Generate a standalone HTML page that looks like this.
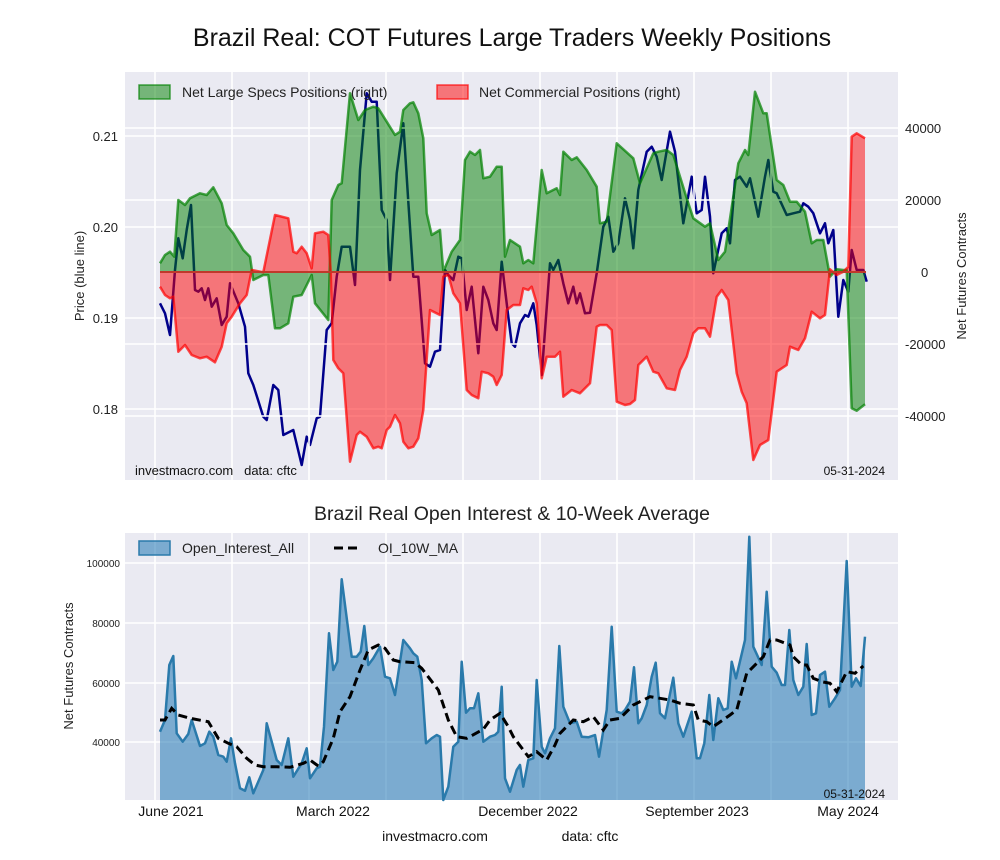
<!DOCTYPE html>
<html><head><meta charset="utf-8"><style>
body{margin:0;background:#fff;}
svg{display:block;font-family:"Liberation Sans",sans-serif;}
</style></head><body>
<svg id="s" width="1000" height="860" viewBox="0 0 1000 860" xmlns="http://www.w3.org/2000/svg">
<rect x="0" y="0" width="1000" height="860" fill="#fff"/>
<text x="512" y="46" font-size="25" text-anchor="middle" fill="#111">Brazil Real: COT Futures Large Traders Weekly Positions</text>
<rect x="125" y="72" width="773" height="408" fill="#eaeaf2"/>
<g stroke="#fff" stroke-width="1.6">
<line x1="125" x2="898" y1="136" y2="136"/><line x1="125" x2="898" y1="227" y2="227"/>
<line x1="125" x2="898" y1="318" y2="318"/><line x1="125" x2="898" y1="409" y2="409"/>
</g>
<path id="blue" fill="none" stroke="#00008b" stroke-width="2.5" stroke-linejoin="round"/>
<g stroke="#fff" stroke-width="1.6" id="vgridTop">
<line x1="125" x2="898" y1="128" y2="128"/><line x1="125" x2="898" y1="200" y2="200"/>
<line x1="125" x2="898" y1="344" y2="344"/><line x1="125" x2="898" y1="416" y2="416"/>
</g>
<path id="gfill" fill="rgba(0,128,0,0.5)" stroke="none"/>
<path id="rfill" fill="rgba(255,0,0,0.5)" stroke="none"/>
<path id="gline" fill="none" stroke="rgba(0,128,0,0.7)" stroke-width="2.5" stroke-linejoin="round"/>
<path id="rline" fill="none" stroke="rgba(255,0,0,0.7)" stroke-width="2.5" stroke-linejoin="round"/>
<line x1="160" x2="866" y1="272" y2="272" stroke="#c0392b" stroke-width="2"/>
<g font-size="13" fill="#222" text-anchor="end">
<text x="118" y="141">0.21</text><text x="118" y="232">0.20</text><text x="118" y="323">0.19</text><text x="118" y="414">0.18</text>
</g>
<g font-size="13" fill="#222">
<text x="905" y="133">40000</text><text x="905" y="205">20000</text><text x="921" y="277">0</text>
<text x="905" y="349">-20000</text><text x="905" y="421">-40000</text>
</g>
<text transform="translate(84,276) rotate(-90)" font-size="13" text-anchor="middle" fill="#222">Price (blue line)</text>
<text transform="translate(966,276) rotate(-90)" font-size="13" text-anchor="middle" fill="#222">Net Futures Contracts</text>
<rect x="139" y="85" width="31" height="14" fill="rgba(0,128,0,0.5)" stroke="rgba(0,128,0,0.7)" stroke-width="1.5"/>
<text x="182" y="97" font-size="14" fill="#222">Net Large Specs Positions (right)</text>
<rect x="437" y="85" width="31" height="14" fill="rgba(255,0,0,0.5)" stroke="rgba(255,0,0,0.7)" stroke-width="1.5"/>
<text x="479" y="97" font-size="14" fill="#222">Net Commercial Positions (right)</text>
<text x="135" y="475" font-size="13" fill="#111">investmacro.com &#160;&#160;data: cftc</text>
<text x="885" y="475" font-size="12" fill="#111" text-anchor="end">05-31-2024</text>
<text x="512" y="520" font-size="19.5" text-anchor="middle" fill="#222">Brazil Real Open Interest &amp; 10-Week Average</text>
<rect x="125" y="533" width="773" height="267" fill="#eaeaf2"/>
<g stroke="#fff" stroke-width="1.6" id="bgrid">
<line x1="125" x2="898" y1="563" y2="563"/><line x1="125" x2="898" y1="623" y2="623"/>
<line x1="125" x2="898" y1="683" y2="683"/><line x1="125" x2="898" y1="742" y2="742"/>
</g>
<path id="oifill" fill="rgba(31,119,180,0.55)" stroke="none"/>
<path id="oiline" fill="none" stroke="#2a7aab" stroke-width="2.5" stroke-linejoin="round"/>
<path id="ma" fill="none" stroke="#000" stroke-width="3" stroke-dasharray="9,5"/>
<g font-size="10" fill="#222" text-anchor="end">
<text x="120" y="567">100000</text><text x="120" y="627">80000</text><text x="120" y="687">60000</text><text x="120" y="746">40000</text>
</g>
<text transform="translate(73,666) rotate(-90)" font-size="13" text-anchor="middle" fill="#222">Net Futures Contracts</text>
<rect x="139" y="541" width="31" height="14" fill="rgba(31,119,180,0.55)" stroke="#2a7aab" stroke-width="1.5"/>
<text x="182" y="553" font-size="14" fill="#222">Open_Interest_All</text>
<line x1="334" x2="362" y1="548" y2="548" stroke="#000" stroke-width="3" stroke-dasharray="9,5"/>
<text x="378" y="553" font-size="14" fill="#222">OI_10W_MA</text>
<text x="885" y="798" font-size="12" fill="#111" text-anchor="end">05-31-2024</text>
<g font-size="14" fill="#111" text-anchor="middle">
<text x="171" y="816">June 2021</text><text x="333" y="816">March 2022</text><text x="528" y="816">December 2022</text>
<text x="697" y="816">September 2023</text><text x="848" y="816">May 2024</text>
</g>
<text x="435" y="841" font-size="14" fill="#111" text-anchor="middle">investmacro.com</text>
<text x="590" y="841" font-size="14" fill="#111" text-anchor="middle">data: cftc</text>
</svg>
<script>
function T(a,ox,oy){var r=[];for(var i=0;i<a.length;i+=2)r.push([ox+a[i]/3,oy+a[i+1]/3]);return r;}
function M(a,b){var lx=a[a.length-1][0];return a.concat(b.filter(function(p){return p[0]>lx+0.5;}));}
function P(p){return p.map(function(q,i){return (i?'L':'M')+q[0].toFixed(1)+','+q[1].toFixed(1);}).join('');}
function F(p,b){return 'M'+p[0][0].toFixed(1)+','+b+P(p).replace(/^M/,'L')+'L'+p[p.length-1][0].toFixed(1)+','+b+'Z';}
var g=M(T([120,580,135,555,150,545,163,560,175,390,195,405,210,385,240,370,260,375,280,352,305,400,320,465,340,490,370,540,390,560,400,630,430,615,445,615,465,775,480,775,505,760,520,680,545,675,575,615,585,700,625,750,635,390,655,345,665,340,690,70,715,150,735,120,760,110,775,115,800,155,825,195,840,185,850,120,870,100,880,97,895,130,910,205,920,430,935,495,960,480,970,605,995,545,1020,510,1035,270,1050,245,1065,255,1080,240,1090,325,1110,320,1130,290,1145,290,1155,560,1170,510,1200,530],120,70),
T([0,290,15,560,30,510,50,515,70,580,85,570,100,580,125,300,140,370,170,355,180,375,190,245,215,270,230,262,260,300,290,350,300,460,320,455,350,220,400,265,420,340,460,250,475,245,500,240,520,255,560,385,580,445,615,470,630,460,655,570,675,545,700,380,715,280,735,240,745,255,765,65,790,130,800,130,830,330,850,345,870,395,890,395,915,425,935,520,950,510,970,510,990,620,1010,598,1030,600,1040,600,1055,1015,1070,1022,1095,1003],500,70));
var r=M(T([120,650,135,675,150,685,160,680,175,845,195,825,215,855,240,865,260,860,285,877,305,830,320,760,335,740,360,700,380,675,395,600,430,607,465,435,505,445,520,545,530,550,545,530,560,550,575,595,585,490,610,485,625,495,632,605,640,870,655,895,670,910,690,1175,710,1095,720,1085,740,1100,760,1135,775,1130,785,1135,800,1080,810,1070,825,1035,840,1060,850,1115,865,1135,880,1130,895,1105,910,1020,930,720,960,735,970,620,985,615,1000,670,1020,700,1040,960,1055,975,1075,985,1085,905,1105,910,1120,920,1130,945,1145,915,1160,720,1180,705,1200,705],120,70),
T([0,935,15,690,35,740,55,715,70,655,85,660,95,650,110,700,125,925,140,860,165,860,180,845,190,980,215,960,240,970,270,940,290,770,300,765,320,765,335,780,350,995,375,1005,390,1002,405,990,415,885,440,860,460,905,475,910,500,955,525,960,540,900,560,860,580,790,595,775,615,775,630,800,650,680,665,660,685,690,710,910,725,965,740,1000,760,1170,780,1125,805,1110,830,905,860,885,870,830,895,840,915,805,935,725,960,745,975,735,990,598,1010,615,1030,605,1045,590,1055,200,1070,190,1095,205],500,70));
var b=M(T([120,700,135,730,150,795,165,600,175,505,188,565,200,480,213,405,225,660,235,665,245,655,255,690,265,655,275,710,290,685,305,765,320,740,330,640,355,700,375,770,385,910,400,945,430,1040,440,1050,460,945,475,960,490,1095,520,1080,545,1185,560,1100,570,1125,590,1045,600,1040,620,780,635,760,650,620,665,530,690,530,705,645,720,300,740,70,755,95,770,95,785,420,800,450,810,630,830,310,850,160,865,395,880,620,895,620,915,880,930,890,945,845,960,840,975,600,985,615,1000,630,1015,560,1025,565,1040,720,1055,650,1075,850,1090,650,1105,690,1120,760,1130,780,1145,575,1165,740,1175,820,1185,830,1200,760],120,70),
T([15,620,30,810,45,830,60,750,75,735,85,740,100,700,110,765,125,915,150,580,160,600,175,570,190,640,205,700,220,650,230,700,240,670,255,730,270,728,290,610,310,470,325,440,340,545,355,520,375,385,390,450,400,535,415,360,440,245,455,230,470,260,485,330,510,185,525,245,550,460,575,320,590,430,605,420,615,320,630,440,640,610,665,490,680,475,690,520,705,330,720,320,740,350,750,325,775,440,795,320,805,270,820,365,830,370,860,435,880,430,900,425,910,400,925,410,940,430,960,490,975,460,985,520,1000,480,1015,740,1030,630,1045,665,1055,540,1070,600,1090,600,1100,635],500,70));
var oi=M(T([120,605,135,570,148,405,160,378,170,610,188,635,205,612,215,570,240,648,255,640,268,605,280,620,295,675,310,680,320,695,333,625,345,700,360,775,375,782,388,742,400,790,430,720,440,580,470,690,485,705,505,625,520,740,545,700,560,655,570,745,590,715,600,710,612,590,627,310,640,420,652,395,665,148,695,380,710,380,722,365,733,288,745,405,760,385,780,350,795,440,810,445,825,495,850,330,870,355,880,370,892,380,905,450,918,640,935,625,950,615,960,620,970,810,985,770,1000,650,1015,635,1025,395,1038,548,1050,535,1062,535,1075,490,1090,635,1110,620,1125,615,1135,605,1145,470,1155,745,1170,785,1190,720,1200,705],120,530),
T([15,745,30,785,55,705,70,770,85,690,100,685,110,450,125,650,135,670,150,625,165,595,178,348,190,530,210,580,230,575,245,620,265,622,285,615,297,680,320,540,335,290,350,545,365,550,375,540,390,515,402,412,415,580,425,565,440,525,455,440,467,398,480,550,495,565,520,443,535,580,550,620,575,545,590,685,600,685,613,640,628,495,640,630,655,505,670,540,683,535,695,395,708,445,735,330,748,20,760,350,785,405,800,185,815,410,830,428,845,465,855,465,868,300,880,450,895,495,910,470,920,342,935,555,948,550,960,435,975,425,988,530,1005,505,1020,480,1040,93,1055,470,1068,445,1082,468,1095,320],500,530));
var ma=M(T([120,570,135,570,155,535,175,555,210,565,265,575,295,625,325,640,350,650,380,685,405,705,430,710,470,710,510,712,550,700,570,690,595,708,610,695,640,625,660,545,690,500,720,420,745,360,775,345,795,355,820,390,840,395,885,398,905,415,955,480,985,570,1010,620,1040,625,1090,598,1110,570,1140,550,1165,590],120,530),
T([0,545,40,620,85,680,110,665,140,690,165,645,180,610,220,570,250,575,280,560,310,600,330,570,360,565,400,525,450,500,510,510,540,520,580,525,595,570,620,575,640,590,690,555,710,540,740,430,790,380,810,330,830,330,870,345,880,380,905,405,920,405,940,445,965,455,990,460,1010,485,1040,425,1065,430,1090,408],500,530));
function S(id,a,v){document.getElementById(id).setAttribute(a,v);}
S('blue','d',P(b));S('gline','d',P(g));S('rline','d',P(r));
S('gfill','d',F(g,272));S('rfill','d',F(r,272));
S('oiline','d',P(oi));S('oifill','d',F(oi,800));S('ma','d',P(ma));
var ns='http://www.w3.org/2000/svg';
[155,232,309,386,463,540,617,694,771,848].forEach(function(x){
 [['vgridTop',72,480],['bgrid',533,800]].forEach(function(q){
  var l=document.createElementNS(ns,'line');l.setAttribute('x1',x);l.setAttribute('x2',x);l.setAttribute('y1',q[1]);l.setAttribute('y2',q[2]);
  document.getElementById(q[0]).appendChild(l);});
});
</script>
</body></html>
